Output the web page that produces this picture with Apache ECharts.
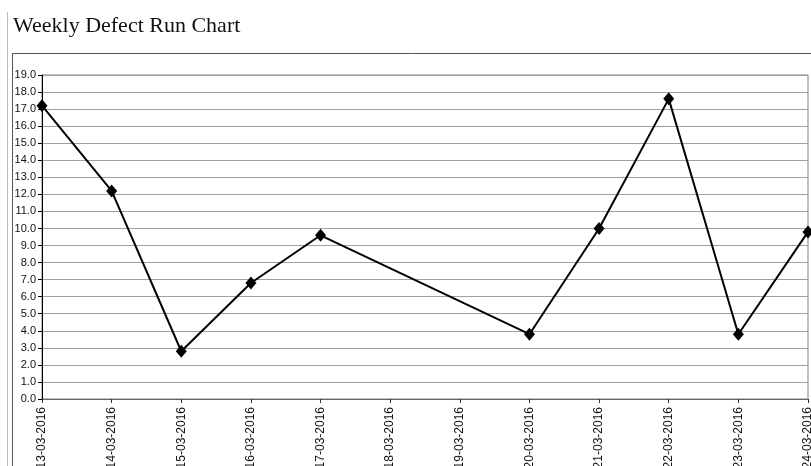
<!DOCTYPE html>
<html>
<head>
<meta charset="utf-8">
<script src="https://cdn.jsdelivr.net/npm/echarts@6/dist/echarts.min.js"></script>
<style>
html,body{margin:0;padding:0;background:#fff;}
#chart{width:811px;height:466px;}
</style>
</head>
<body>
<div id="chart"></div>
<script>
const categories = ['13-03-2016','14-03-2016','15-03-2016','16-03-2016','17-03-2016','18-03-2016','19-03-2016','20-03-2016','21-03-2016','22-03-2016','23-03-2016','24-03-2016'];
const defects = [17.2, 12.2, 2.8, 6.8, 9.6, null, null, 3.8, 10.0, 17.6, 3.8, 9.8];
const chartTitle = 'Weekly Defect Run Chart';

const chart = echarts.init(document.getElementById('chart'));
chart.setOption({
  animation: false,
  backgroundColor: '#fff',
  title: {
    text: chartTitle,
    left: 8, top: 10,
    textStyle: { fontFamily: 'Liberation Serif, Times New Roman, serif', fontSize: 22, fontWeight: 'normal', color: '#111' }
  },
  graphic: [
    { type: 'line', shape: { x1: 7.5, y1: 12, x2: 7.5, y2: 466 }, style: { stroke: '#bbb', lineWidth: 1 } },
    { type: 'line', shape: { x1: 12.5, y1: 53.5, x2: 12.5, y2: 466 }, style: { stroke: '#555', lineWidth: 1 } },
    { type: 'line', shape: { x1: 12, y1: 53.5, x2: 811, y2: 53.5 }, style: { stroke: '#555', lineWidth: 1 } }
  ],
  grid: { left: 42, right: 3, top: 75, bottom: 67, outerBoundsMode: 'none', containLabel: false, show: true, borderColor: '#808080', borderWidth: 1 },
  xAxis: {
    type: 'category',
    data: categories,
    boundaryGap: false,
    axisLine: { lineStyle: { color: '#666', width: 1 } },
    axisTick: { show: true, inside: false, length: 4, alignWithLabel: true, lineStyle: { color: '#333' } },
    axisLabel: { rotate: 90, margin: 8, interval: 0, fontFamily: 'Liberation Sans, Arial, sans-serif', fontSize: 12, color: '#111' },
    splitLine: { show: false }
  },
  yAxis: {
    type: 'value',
    min: 0, max: 19, interval: 1,
    axisLine: { show: true, lineStyle: { color: '#000', width: 1 } },
    axisTick: { show: true, length: 4, lineStyle: { color: '#000' } },
    axisLabel: { margin: 6, fontFamily: 'Liberation Sans, Arial, sans-serif', fontSize: 11, color: '#111', formatter: v => v.toFixed(1) },
    splitLine: { show: true, lineStyle: { color: '#a0a0a0', width: 1 } }
  },
  series: [{
    type: 'line',
    data: defects,
    connectNulls: true,
    symbol: 'diamond',
    symbolSize: [11, 13],
    itemStyle: { color: '#000' },
    lineStyle: { color: '#000', width: 2 }
  }]
});
</script>
</body>
</html>
